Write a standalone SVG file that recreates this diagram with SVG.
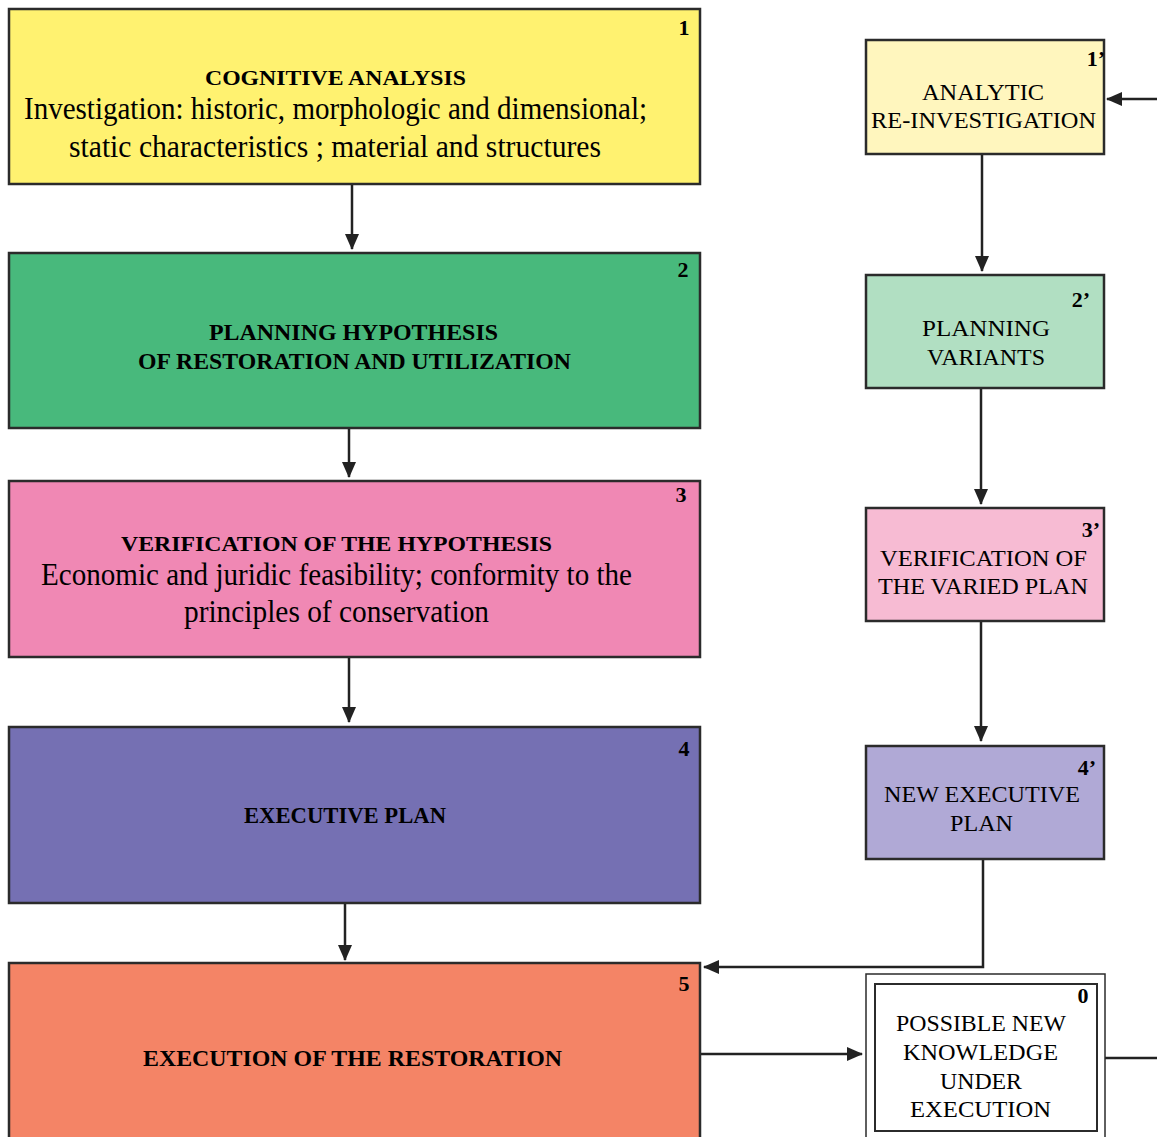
<svg xmlns="http://www.w3.org/2000/svg" width="1157" height="1137" viewBox="0 0 1157 1137">
<defs>
<style>
.box{stroke:#2b2b2b;stroke-width:2.5}
.t{font-family:"Liberation Serif","Times New Roman",serif;fill:#000}
.b{font-weight:bold;font-size:22px}
.bl{font-weight:bold;font-size:24px}
.r{font-size:32px}
.s{font-size:24px}
.n{font-weight:bold;font-size:22px}
.c{stroke:#222;stroke-width:2.5;fill:none}
</style>
<marker id="ah" markerWidth="16" markerHeight="14" refX="15" refY="7" orient="auto" markerUnits="userSpaceOnUse">
<path d="M0,0 L16,7 L0,14 z" fill="#222"/>
</marker>
</defs>
<rect width="1157" height="1137" fill="#fff"/>

<g id="connectors">
<line class="c" x1="352" y1="184" x2="352" y2="249" marker-end="url(#ah)"/>
<line class="c" x1="349" y1="428" x2="349" y2="477" marker-end="url(#ah)"/>
<line class="c" x1="349" y1="657" x2="349" y2="722" marker-end="url(#ah)"/>
<line class="c" x1="345" y1="903" x2="345" y2="960" marker-end="url(#ah)"/>
<line class="c" x1="982" y1="154" x2="982" y2="271" marker-end="url(#ah)"/>
<line class="c" x1="981" y1="388" x2="981" y2="504" marker-end="url(#ah)"/>
<line class="c" x1="981" y1="621" x2="981" y2="741" marker-end="url(#ah)"/>
<polyline class="c" points="983,859 983,967 704,967" marker-end="url(#ah)"/>
<line class="c" x1="700" y1="1054" x2="862" y2="1054" marker-end="url(#ah)"/>
<line class="c" x1="1105" y1="1058" x2="1157" y2="1058"/>
<line class="c" x1="1157" y1="99" x2="1107" y2="99" marker-end="url(#ah)"/>
</g>

<g id="node1">
<rect class="box" x="9" y="9" width="691" height="175" fill="#FFF270"/>
<text class="t n" x="684" y="35" text-anchor="middle">1</text>
<text class="t b" x="335.5" y="85" text-anchor="middle" textLength="261" lengthAdjust="spacingAndGlyphs">COGNITIVE ANALYSIS</text>
<text class="t r" x="335.5" y="119" text-anchor="middle" textLength="623" lengthAdjust="spacingAndGlyphs">Investigation: historic, morphologic and dimensional;</text>
<text class="t r" x="335" y="157" text-anchor="middle" textLength="532" lengthAdjust="spacingAndGlyphs">static characteristics ; material and structures</text>
</g>

<g id="node2">
<rect class="box" x="9" y="253" width="691" height="175" fill="#48B97C"/>
<text class="t n" x="683" y="277" text-anchor="middle">2</text>
<text class="t bl" x="353.5" y="340" text-anchor="middle" textLength="289" lengthAdjust="spacingAndGlyphs">PLANNING HYPOTHESIS</text>
<text class="t bl" x="354.5" y="369" text-anchor="middle" textLength="433" lengthAdjust="spacingAndGlyphs">OF RESTORATION AND UTILIZATION</text>
</g>

<g id="node3">
<rect class="box" x="9" y="481" width="691" height="176" fill="#F088B4"/>
<text class="t n" x="681" y="502" text-anchor="middle">3</text>
<text class="t b" x="336.5" y="551" text-anchor="middle" textLength="431" lengthAdjust="spacingAndGlyphs">VERIFICATION OF THE HYPOTHESIS</text>
<text class="t r" x="336.5" y="585" text-anchor="middle" textLength="591" lengthAdjust="spacingAndGlyphs">Economic and juridic feasibility; conformity to the</text>
<text class="t r" x="336.5" y="622" text-anchor="middle" textLength="305" lengthAdjust="spacingAndGlyphs">principles of conservation</text>
</g>

<g id="node4">
<rect class="box" x="9" y="727" width="691" height="176" fill="#7570B3"/>
<text class="t n" x="684" y="756" text-anchor="middle">4</text>
<text class="t bl" x="345" y="823" text-anchor="middle" textLength="202" lengthAdjust="spacingAndGlyphs">EXECUTIVE PLAN</text>
</g>

<g id="node5">
<rect class="box" x="9" y="963" width="691" height="190" fill="#F48466"/>
<text class="t n" x="684" y="991" text-anchor="middle">5</text>
<text class="t bl" x="352.5" y="1066" text-anchor="middle" textLength="419" lengthAdjust="spacingAndGlyphs">EXECUTION OF THE RESTORATION</text>
</g>

<g id="node1p">
<rect class="box" x="866" y="40" width="238" height="114" fill="#FFF6BE"/>
<text class="t n" x="1096" y="66" text-anchor="middle">1’</text>
<text class="t s" x="983" y="100" text-anchor="middle" textLength="122" lengthAdjust="spacingAndGlyphs">ANALYTIC</text>
<text class="t s" x="983.5" y="128" text-anchor="middle" textLength="225" lengthAdjust="spacingAndGlyphs">RE-INVESTIGATION</text>
</g>

<g id="node2p">
<rect class="box" x="866" y="275" width="238" height="113" fill="#B1DFC2"/>
<text class="t n" x="1081" y="307" text-anchor="middle">2’</text>
<text class="t s" x="986" y="336" text-anchor="middle" textLength="128" lengthAdjust="spacingAndGlyphs">PLANNING</text>
<text class="t s" x="986" y="365" text-anchor="middle" textLength="118" lengthAdjust="spacingAndGlyphs">VARIANTS</text>
</g>

<g id="node3p">
<rect class="box" x="866" y="508" width="238" height="113" fill="#F7BBD3"/>
<text class="t n" x="1091" y="537" text-anchor="middle">3’</text>
<text class="t s" x="983.5" y="566" text-anchor="middle" textLength="207" lengthAdjust="spacingAndGlyphs">VERIFICATION OF</text>
<text class="t s" x="983" y="594" text-anchor="middle" textLength="210" lengthAdjust="spacingAndGlyphs">THE VARIED PLAN</text>
</g>

<g id="node4p">
<rect class="box" x="866" y="746" width="238" height="113" fill="#B0A9D6"/>
<text class="t n" x="1087" y="775" text-anchor="middle">4’</text>
<text class="t s" x="982" y="802" text-anchor="middle" textLength="196" lengthAdjust="spacingAndGlyphs">NEW EXECUTIVE</text>
<text class="t s" x="981.5" y="831" text-anchor="middle" textLength="63" lengthAdjust="spacingAndGlyphs">PLAN</text>
</g>

<g id="node0">
<rect x="866" y="974" width="239" height="180" fill="#fff" stroke="#2b2b2b" stroke-width="1.5"/>
<rect x="875" y="984" width="222" height="147" fill="#fff" stroke="#2b2b2b" stroke-width="2"/>
<text class="t n" x="1083" y="1003" text-anchor="middle">0</text>
<text class="t s" x="981" y="1031" text-anchor="middle" textLength="170" lengthAdjust="spacingAndGlyphs">POSSIBLE NEW</text>
<text class="t s" x="980.5" y="1060" text-anchor="middle" textLength="155" lengthAdjust="spacingAndGlyphs">KNOWLEDGE</text>
<text class="t s" x="981" y="1089" text-anchor="middle" textLength="82" lengthAdjust="spacingAndGlyphs">UNDER</text>
<text class="t s" x="980.5" y="1117" text-anchor="middle" textLength="141" lengthAdjust="spacingAndGlyphs">EXECUTION</text>
</g>
</svg>
